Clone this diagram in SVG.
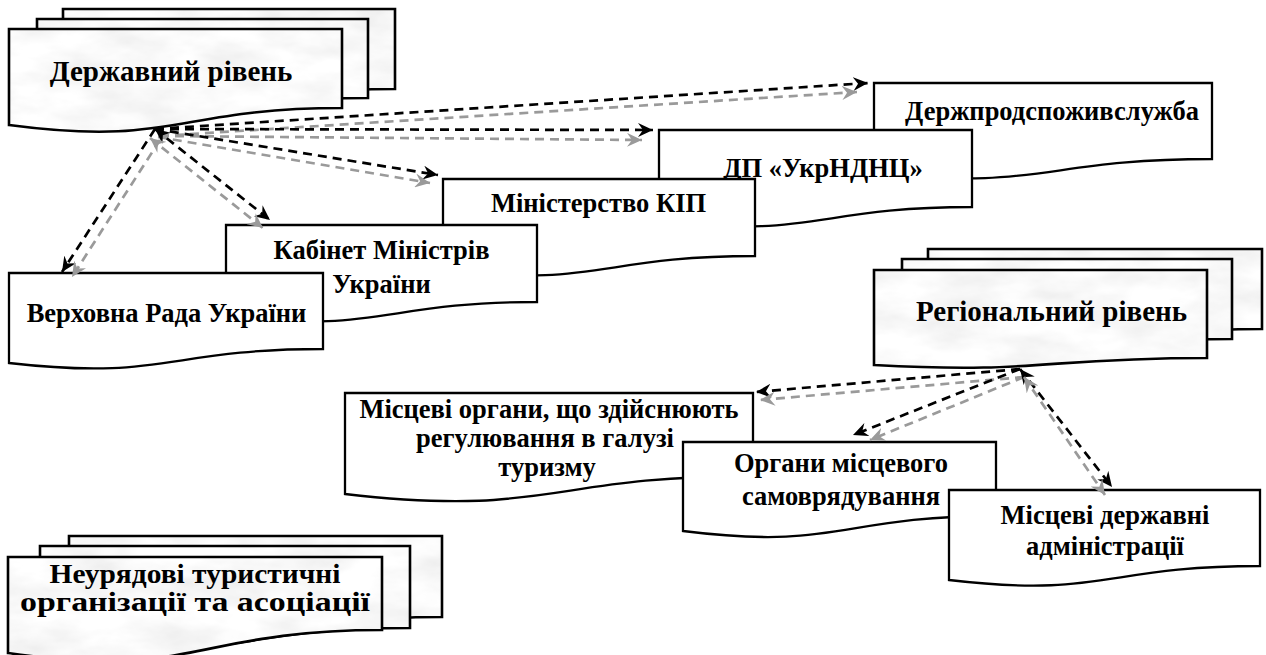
<svg xmlns="http://www.w3.org/2000/svg" width="1266" height="655" viewBox="0 0 1266 655">
<style>
.page{fill:url(#marble);stroke:#000;stroke-width:2.6;stroke-linejoin:miter}
.box{fill:#fff;stroke:#000;stroke-width:2.3;stroke-linejoin:miter}
.t{font-family:"Liberation Serif","Times New Roman",serif;font-weight:bold;fill:#000;text-anchor:middle}
.tb{font-size:26.5px}
.tl{font-size:29px}
.cb{fill:none;stroke:#000;stroke-width:2.7;stroke-dasharray:9 6;marker-end:url(#ab)}
.cg{fill:none;stroke:#9a9a9a;stroke-width:2.7;stroke-dasharray:9 6;marker-end:url(#ag)}
.cb.s{marker-start:url(#ab)}
.cg.s{marker-start:url(#ag)}
</style>
<defs>
<filter id="noise" filterUnits="userSpaceOnUse" x="0" y="0" width="1266" height="655">
<feTurbulence type="fractalNoise" baseFrequency="0.015 0.035" numOctaves="4" seed="7"/>
<feColorMatrix type="matrix" values="0.28 0 0 0 0.81  0.28 0 0 0 0.81  0.28 0 0 0 0.81  0 0 0 0 1"/>
</filter>
<pattern id="marble" patternUnits="userSpaceOnUse" x="0" y="0" width="1266" height="655">
<rect width="1266" height="655" filter="url(#noise)"/>
</pattern>
<marker id="ab" markerUnits="userSpaceOnUse" markerWidth="16" markerHeight="14" refX="15" refY="7" orient="auto-start-reverse" viewBox="0 0 16 14">
<path d="M0,0 L15,7 L0,14 L5,7 Z" fill="#000"/>
</marker>
<marker id="ag" markerUnits="userSpaceOnUse" markerWidth="16" markerHeight="14" refX="15" refY="7" orient="auto-start-reverse" viewBox="0 0 16 14">
<path d="M0,0 L15,7 L0,14 L5,7 Z" fill="#9a9a9a"/>
</marker>
</defs>

<g id="state-level">
<path class="page" d="M63,9 H395 V89 C229,89 229,128 63,106 Z"/>
<path class="page" d="M37,19 H368 V98 C202,98 202,137 37,115 Z"/>
<path class="page" d="M9,29 H342 V108 C175.5,108 175.5,147 9,125 Z"/>
<text class="t tl" x="171" y="81">Державний рівень</text>
</g>

<g id="derzhprod">
<path class="box" d="M874,83 H1212 V159 C1043,159 1043,191 874,173 Z"/>
<text class="t tb" x="1052" y="120">Держпродспоживслужба</text>
</g>
<g id="dp-ukrndnc">
<path class="box" d="M659,130 H972 V207 C815.5,207 815.5,239 659,221 Z"/>
<text class="t tb" x="823" y="177">ДП «УкрНДНЦ»</text>
</g>
<g id="ministry-kip">
<path class="box" d="M443,179 H755 V256 C599,256 599,288 443,270 Z"/>
<text class="t tb" x="598.5" y="212">Міністерство КІП</text>
</g>
<g id="cabinet">
<path class="box" d="M226,225 H537 V302 C381.5,302 381.5,334 226,316 Z"/>
<text class="t tb" x="381.5" y="259">Кабінет Міністрів</text>
<text class="t tb" x="381.5" y="293">України</text>
</g>
<g id="verkhovna-rada">
<path class="box" d="M9,273 H323 V349 C166,349 166,381 9,363 Z"/>
<text class="t tb" x="166.5" y="322">Верховна Рада України</text>
</g>

<g id="regional-level">
<path class="page" d="M928,249 H1262 V329 C1095,329 1095,361 928,343 Z"/>
<path class="page" d="M902,259 H1232 V339 C1067,339 1067,371 902,353 Z"/>
<path class="page" d="M874,270 H1207 V358 C1040.5,358 1040.5,374 874,365 Z"/>
<text class="t tl" x="1051.5" y="321">Регіональний рівень</text>
</g>

<g id="local-bodies">
<path class="box" d="M345,393 H753 V476 C549,476 549,517.6 345,494 Z"/>
<text class="t tb" x="549" y="418">Місцеві органи, що здійснюють</text>
<text class="t tb" x="545" y="447">регулювання в галузі</text>
<text class="t tb" x="547" y="476">туризму</text>
</g>
<g id="self-government">
<path class="box" d="M683,442 H996 V516 C839.5,516 839.5,550.7 683,531 Z"/>
<text class="t tb" x="841" y="472">Органи місцевого</text>
<text class="t tb" x="841" y="505">самоврядування</text>
</g>
<g id="state-administrations">
<path class="box" d="M949,490 H1260 V566 C1104.5,566 1104.5,598.3 949,580 Z"/>
<text class="t tb" x="1105" y="524">Місцеві державні</text>
<text class="t tb" x="1105" y="555">адміністрації</text>
</g>

<g id="ngo-level">
<path class="page" d="M69,536 H442 V617 C255.5,617 255.5,668 69,640 Z"/>
<path class="page" d="M40,546 H410 V628 C225,628 225,667 40,645 Z"/>
<path class="page" d="M8,557 H382 V630 C195,630 195,680 8,653 Z"/>
<text class="t" font-size="28" x="195" y="583" textLength="291" lengthAdjust="spacingAndGlyphs">Неурядові туристичні</text>
<text class="t" font-size="28" x="195" y="611" textLength="350" lengthAdjust="spacingAndGlyphs">організації та асоціації</text>
</g>

<g id="connectors">
<path class="cb" d="M155,129 L868,83"/>
<path class="cg" d="M160,136 L857,92"/>
<path class="cb" d="M155,129 L653,130"/>
<path class="cg" d="M160,136 L642,140"/>
<path class="cb" d="M155,129 L438,175"/>
<path class="cg" d="M158,137 L430,183"/>
<path class="cb s" d="M155,129 L270,220"/>
<path class="cg s" d="M150,138 L263,228"/>
<path class="cb" d="M155,129 L62,272"/>
<path class="cg" d="M160,140 L72,277"/>
<path class="cb" d="M1020,369 L756,392"/>
<path class="cg" d="M1024,377 L760,400"/>
<path class="cb" d="M1020,369 L853,435"/>
<path class="cg" d="M1024,377 L870,440"/>
<path class="cb s" d="M1020,369 L1112,487"/>
<path class="cg s" d="M1024,377 L1105,495"/>
</g>
</svg>
